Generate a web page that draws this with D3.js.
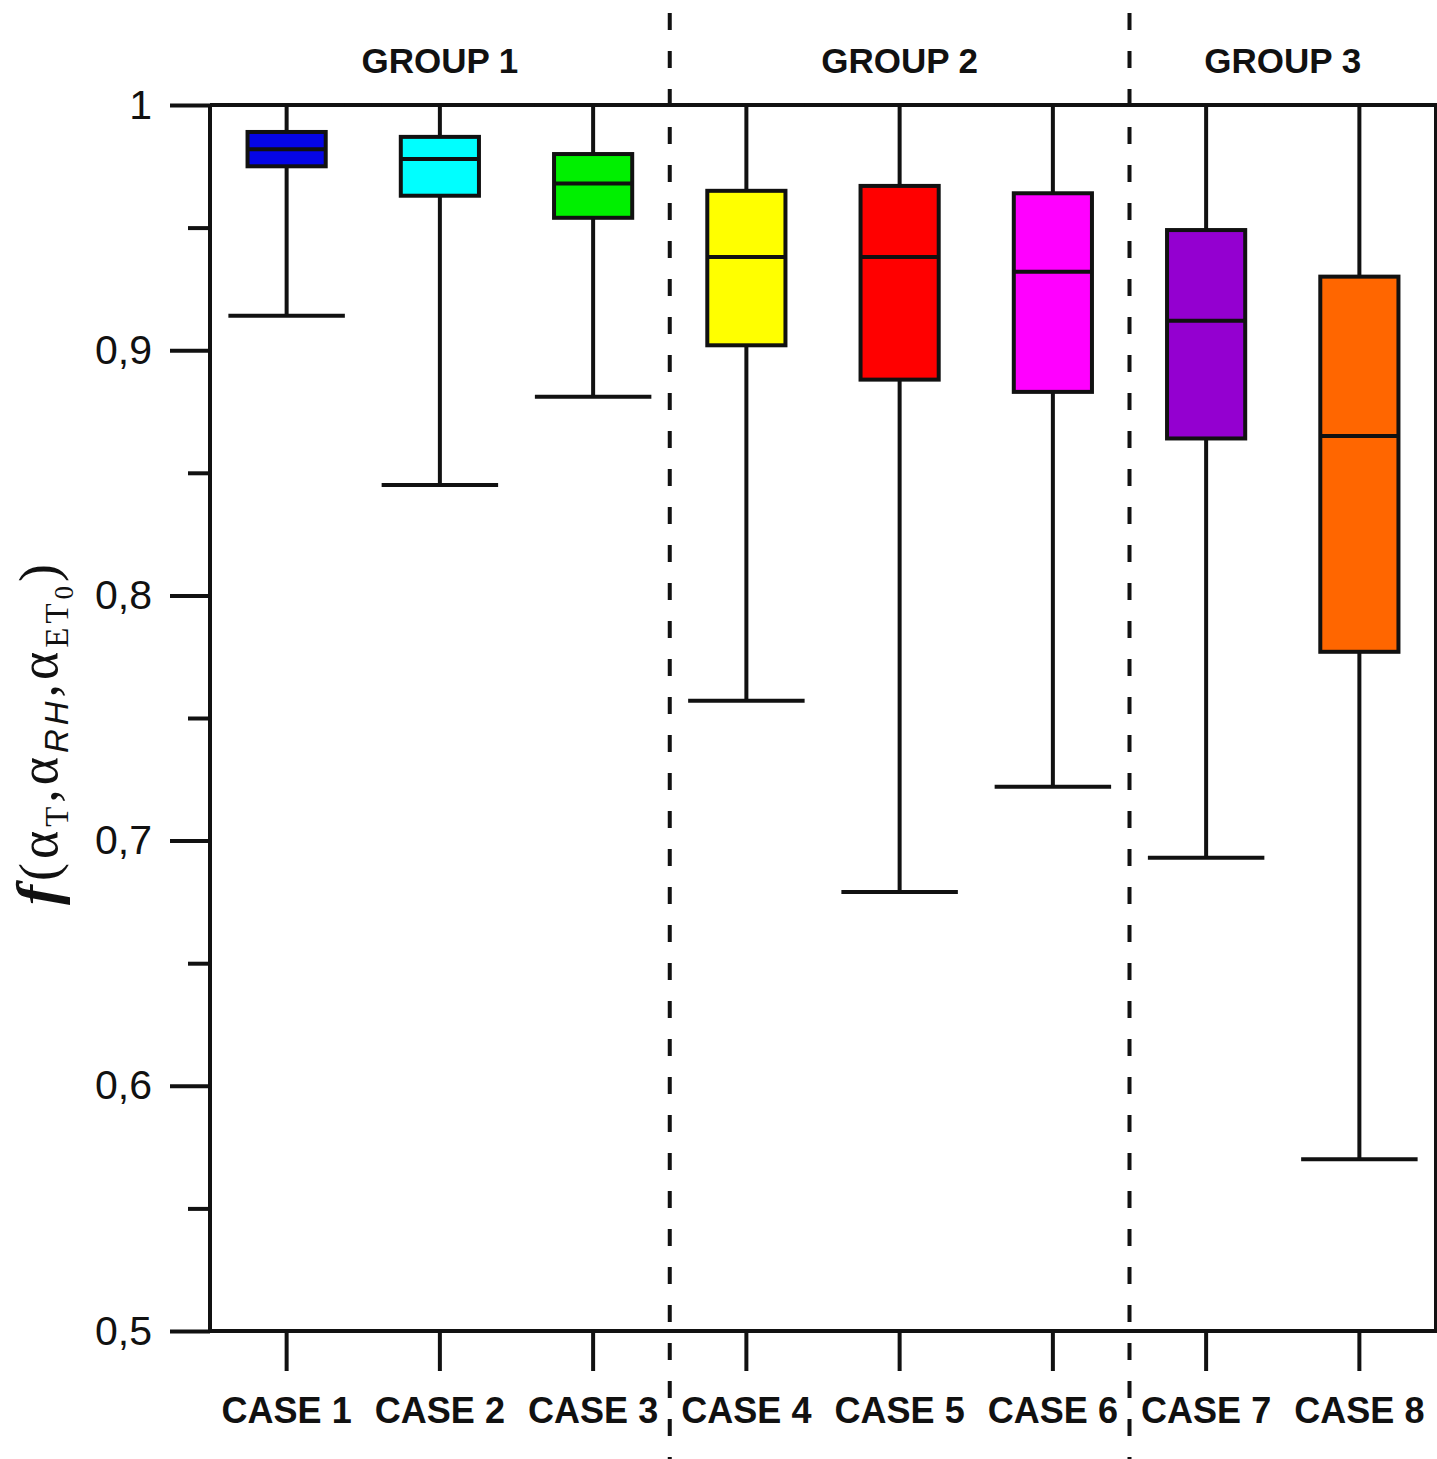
<!DOCTYPE html>
<html>
<head>
<meta charset="utf-8">
<script src="https://cdn.jsdelivr.net/npm/d3@7"></script>
<style>
  html, body { margin: 0; padding: 0; background: #fff; }
  svg { display: block; }
</style>
</head>
<body>
<svg id="chart" width="1437" height="1459"></svg>
<script>
// Box-plot statistics for each case
const cases = ["CASE 1", "CASE 2", "CASE 3", "CASE 4", "CASE 5", "CASE 6", "CASE 7", "CASE 8"];
const minValues    = [0.914, 0.845, 0.881, 0.757, 0.679, 0.722, 0.693, 0.570];
const q1Values     = [0.975, 0.963, 0.954, 0.902, 0.888, 0.883, 0.864, 0.777];
const medianValues = [0.982, 0.978, 0.968, 0.938, 0.938, 0.932, 0.912, 0.865];
const q3Values     = [0.989, 0.987, 0.980, 0.965, 0.967, 0.964, 0.949, 0.930];
const maxValues    = [1, 1, 1, 1, 1, 1, 1, 1];
const boxColors    = ["#0505e6", "#00ffff", "#00f000", "#ffff00", "#ff0000", "#ff00ff", "#9400d0", "#ff6600"];

// Groups of cases (first case index, last case index)
const groupLabels = ["GROUP 1", "GROUP 2", "GROUP 3"];
const groupFirst  = [0, 3, 6];
const groupLast   = [2, 5, 7];

// Y axis ticks
const yMajorTicks = [0.5, 0.6, 0.7, 0.8, 0.9, 1];
const yMinorTicks = [0.55, 0.65, 0.75, 0.85, 0.95];
const yTickLabels = ["0,5", "0,6", "0,7", "0,8", "0,9", "1"];

const svg = d3.select("#chart");
const plotLeft = 210, plotRight = 1436, plotTop = 105, plotBottom = 1331;

const x = d3.scaleBand().domain(cases).range([plotLeft, plotRight]).padding(0);
const y = d3.scaleLinear().domain([0.5, 1]).range([plotBottom, plotTop]);

const data = cases.map((c, i) => ({
  name: c, min: minValues[i], q1: q1Values[i], med: medianValues[i],
  q3: q3Values[i], max: maxValues[i], color: boxColors[i]
}));

const ink = "#111";
const bw = x.bandwidth();
const boxW = bw * 0.51;
const capW = bw * 0.76;

// Group separators (dashed)
const separators = groupFirst.slice(1).map(i => x(cases[i]));
svg.append("g").selectAll("line").data(separators).join("line")
  .attr("x1", d => d).attr("x2", d => d)
  .attr("y1", 13).attr("y2", 1459)
  .attr("stroke", ink).attr("stroke-width", 4)
  .attr("stroke-dasharray", "17,21");

// Plot frame: top and right edges
svg.append("path")
  .attr("d", `M${plotLeft},${y(1)}H${plotRight}V${plotBottom}`)
  .attr("fill", "none").attr("stroke", ink).attr("stroke-width", 4);

// Y axis
const yAxis = d3.axisLeft(y).tickValues(yMajorTicks)
  .tickSize(40).tickPadding(18)
  .tickFormat((d, i) => yTickLabels[i]);
const gy = svg.append("g").attr("transform", `translate(${plotLeft},0)`).call(yAxis);
gy.select(".domain").attr("stroke", ink).attr("stroke-width", 4)
  .attr("d", `M0,${plotBottom}V${plotTop}`);
gy.selectAll(".tick line").attr("stroke", ink).attr("stroke-width", 4);
gy.selectAll(".tick text")
  .attr("font-family", "Liberation Sans, Arial, sans-serif")
  .attr("font-size", 41).attr("fill", ink);

const yMinor = d3.axisLeft(y).tickValues(yMinorTicks).tickSize(22).tickFormat("");
const gym = svg.append("g").attr("transform", `translate(${plotLeft},0)`).call(yMinor);
gym.select(".domain").remove();
gym.selectAll(".tick line").attr("stroke", ink).attr("stroke-width", 4);

// X axis
const xAxis = d3.axisBottom(x).tickSize(40).tickPadding(26);
const gx = svg.append("g").attr("transform", `translate(0,${plotBottom})`).call(xAxis);
gx.select(".domain").attr("stroke", ink).attr("stroke-width", 4)
  .attr("d", `M${plotLeft - 2},0H${plotRight + 2}`);
gx.selectAll(".tick line").attr("stroke", ink).attr("stroke-width", 4);
gx.selectAll(".tick text")
  .attr("font-family", "Liberation Sans, Arial, sans-serif")
  .attr("font-weight", "bold").attr("font-size", 36).attr("fill", ink)
  .attr("dy", "0.71em");

// Boxes
const boxes = svg.append("g").selectAll("g").data(data).join("g")
  .attr("transform", d => `translate(${x(d.name) + bw / 2},0)`);

boxes.append("line") // whisker
  .attr("x1", 0).attr("x2", 0)
  .attr("y1", d => y(d.max)).attr("y2", d => y(d.min))
  .attr("stroke", ink).attr("stroke-width", 4);
boxes.append("line") // lower cap
  .attr("x1", -capW / 2).attr("x2", capW / 2)
  .attr("y1", d => y(d.min)).attr("y2", d => y(d.min))
  .attr("stroke", ink).attr("stroke-width", 4);
boxes.append("line") // upper cap
  .attr("x1", -capW / 2).attr("x2", capW / 2)
  .attr("y1", d => y(d.max)).attr("y2", d => y(d.max))
  .attr("stroke", ink).attr("stroke-width", 4);
boxes.append("rect")
  .attr("x", -boxW / 2).attr("width", boxW)
  .attr("y", d => y(d.q3)).attr("height", d => y(d.q1) - y(d.q3))
  .attr("fill", d => d.color).attr("stroke", ink).attr("stroke-width", 4);
boxes.append("line") // median
  .attr("x1", -boxW / 2).attr("x2", boxW / 2)
  .attr("y1", d => y(d.med)).attr("y2", d => y(d.med))
  .attr("stroke", ink).attr("stroke-width", 4);

// Group labels
svg.append("g").selectAll("text").data(groupLabels).join("text")
  .attr("x", (d, i) => (x(cases[groupFirst[i]]) + x(cases[groupLast[i]]) + bw) / 2)
  .attr("y", 73)
  .attr("text-anchor", "middle")
  .attr("font-family", "Liberation Sans, Arial, sans-serif")
  .attr("font-weight", "bold").attr("font-size", 35).attr("fill", ink)
  .text(d => d);

// Y axis title: f(αT, αRH, αET0), spanning from 905 up to 560
const serif = "Liberation Serif, Times New Roman, serif";
const sans = "Liberation Sans, Arial, sans-serif";
const titleStart = 905, titleEnd = 560;
const title = svg.append("text")
  .attr("transform", "rotate(-90)")
  .attr("x", -titleStart).attr("y", 57)
  .attr("fill", ink).attr("font-family", serif).attr("font-size", 54);
const parts = [
  { t: "f", size: 60, style: "italic", weight: "bold", dy: 0 },
  { t: "(", dy: 0 },
  { t: "α", dy: 0 },
  { t: "T", size: 33, dy: 11 },
  { t: ",", dy: -11 },
  { t: "α", dy: 0 },
  { t: "RH", size: 33, style: "italic", family: sans, dy: 11 },
  { t: ",", dy: -11 },
  { t: "α", dy: 0 },
  { t: "ET", size: 33, dy: 11 },
  { t: "0", size: 27, dy: 5 },
  { t: ")", dy: -16 }
];
parts.forEach(p => {
  const s = title.append("tspan").text(p.t).attr("dy", p.dy);
  if (p.size) s.attr("font-size", p.size);
  if (p.style) s.attr("font-style", p.style);
  if (p.weight) s.attr("font-weight", p.weight);
  if (p.family) s.attr("font-family", p.family);
});
// Spread the glyphs so the title covers its full span
const naturalLen = title.node().getComputedTextLength();
const nChars = parts.reduce((a, p) => a + p.t.length, 0);
const extra = (titleStart - titleEnd) - naturalLen;
if (extra > 0) title.attr("letter-spacing", extra / nChars);
</script>
</body>
</html>
